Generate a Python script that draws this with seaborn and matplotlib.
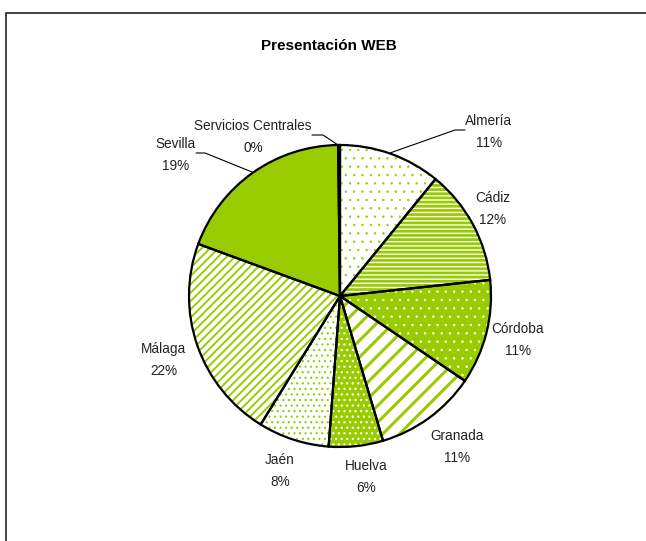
import matplotlib
matplotlib.use("Agg")
import matplotlib.pyplot as plt
import seaborn as sns
from matplotlib.lines import Line2D
from matplotlib.patches import Rectangle

sns.set_theme(style="white")
plt.rcParams['font.family'] = ['Liberation Sans Narrow', 'Liberation Sans', 'DejaVu Sans']

# ---- data ----
categories = ["Almería", "Cádiz", "Córdoba", "Granada", "Huelva", "Jaén",
              "Málaga", "Sevilla", "Servicios Centrales"]
shares = [10.9, 12.4, 11.2, 10.9, 5.8, 7.6, 21.8, 19.2, 0.2]
pct_labels = ["11%", "12%", "11%", "11%", "6%", "8%", "22%", "19%", "0%"]
title = "Presentación WEB"

# ---- styles ----
GREEN = "#99CC00"
W, H = 646, 541
CX, CY, R = 340, 296, 151
face = ["white", "white", GREEN, "white", GREEN, "white", "white", GREEN, GREEN]
hcol = [GREEN, GREEN, "white", GREEN, "white", GREEN, GREEN, GREEN, GREEN]
hatches = ["..", "----", "..", "//", "...", "...", "////", "", ""]
hlw = [0.5, 2.0, 0.5, 2.2, 0.9, 0.8, 1.4, 1.0, 1.0]

# label layout (pixel centres) and leader lines
label_pos = [(489, 132), (493, 209), (518, 340), (457, 447), (366, 477),
             (280, 471), (164, 360), (176, 155), (253, 137)]
leaders = {0: [(465, 130), (455, 130), (390, 153)],
           7: [(196, 153), (205, 153), (252, 172)],
           8: [(312, 135), (323, 135), (338, 145)]}

fig = plt.figure(figsize=(W / 100, H / 100), dpi=100)
fig.patch.set_facecolor("white")
ax = fig.add_axes([0, 0, 1, 1])

wedges, _ = ax.pie(shares, startangle=90, counterclock=False, radius=1)
for w, fc, hc, hp, lw in zip(wedges, face, hcol, hatches, hlw):
    w.set_facecolor(fc)
    w.set_edgecolor(hc)
    w.set_linewidth(0)
    w.set_hatch(hp)
    try:
        w.set_hatch_linewidth(lw)
    except Exception:
        pass

ax.pie(shares, startangle=90, counterclock=False, radius=1,
       wedgeprops=dict(fill=False, edgecolor="black", linewidth=1.6))

ax.set_aspect("auto")
ax.set_xlim(-CX / R, (W - CX) / R)
ax.set_ylim(-(H - CY) / R, CY / R)
ax.axis("off")


def fx(px):
    return px / W


def fy(py):
    return 1 - py / H


for i, (name, pct) in enumerate(zip(categories, pct_labels)):
    x, y = label_pos[i]
    fig.text(fx(x), fy(y), f"{name}\n{pct}", ha="center", va="center",
             fontsize=9.8, color="#222222", linespacing=1.8)

for i, pts in leaders.items():
    xs = [fx(p[0]) for p in pts]
    ys = [fy(p[1]) for p in pts]
    fig.add_artist(Line2D(xs, ys, color="black", linewidth=0.8))

fig.text(fx(329), fy(46), title, ha="center", va="center",
         fontsize=11, fontweight="bold", color="black")

fig.add_artist(Rectangle((fx(6), fy(H + 20)), 1.2, fy(13) - fy(H + 20),
                         transform=fig.transFigure, fill=False,
                         edgecolor="#222222", linewidth=1.2))

fig.savefig("out.png", dpi=100)
